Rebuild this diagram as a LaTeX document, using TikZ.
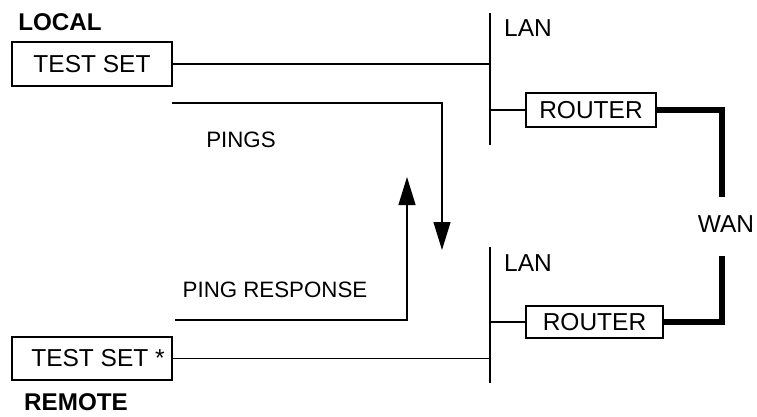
\documentclass[tikz,border=0pt]{standalone}
\usepackage{fontspec}
\setmainfont{Liberation Sans}
\usetikzlibrary{arrows.meta}
\begin{document}
\begin{tikzpicture}[x=1pt,y=-1pt,
  txt/.style={font=\fontsize{24.5}{28}\selectfont, inner sep=0pt},
  small/.style={font=\fontsize{22.3}{26}\selectfont, inner sep=0pt},
  bold/.style={font=\fontsize{24.2}{28}\selectfont\bfseries, inner sep=0pt},
  box/.style={draw, line width=1.2pt, txt},
  thin/.style={line width=1.2pt},
  wan/.style={line width=6.5pt},
  arr/.style={thin, -{Triangle[length=28pt,width=17pt]}}]
\useasboundingbox (0,0) rectangle (757,416);

% labels
\node[bold] (local) at (60,22) {LOCAL};
\node[bold] (remote) at (76,402) {REMOTE};

% test sets
\node[box, minimum width=160pt, minimum height=44pt] (ts1) at (92,64) {TEST SET};
\node[box, minimum width=160pt, minimum height=43pt] (ts2) at (92,358.5) {\hspace*{12pt}TEST SET *};

% LAN buses
\coordinate (lan1top) at (490,13);
\coordinate (lan1bot) at (490,145);
\coordinate (lan2top) at (490,247);
\coordinate (lan2bot) at (490,383);
\draw[thin] (lan1top) -- (lan1bot);
\draw[thin] (lan2top) -- (lan2bot);
\node[txt] (lan1) at (528,28) {LAN};
\node[txt] (lan2) at (528,263) {LAN};

% routers
\node[box, minimum width=130pt, minimum height=34pt] (r1) at (591,110) {ROUTER};
\node[box, minimum width=137pt, minimum height=32pt] (r2) at (594.5,322) {ROUTER};

% connections
\draw[thin] (ts1.east) -- (ts1.east -| lan1top);
\draw[thin] (ts2.east) -- (ts2.east -| lan2top);
\draw[thin] (r1.west -| lan1top) -- (r1.west);
\draw[thin] (r2.west -| lan2top) -- (r2.west);

% WAN
\coordinate (w1) at (722,197);
\coordinate (w2) at (722,256);
\draw[wan] (r1.east) -| (w1);
\draw[wan] (w2) |- (r2.east);
\node[txt] (wanl) at (726,224) {WAN};

% pings
\coordinate (p0) at (172,103);
\coordinate (p1) at (442,103);
\coordinate (p2) at (442,250);
\draw[arr] (p0) -- (p1) -- (p2);
\node[small] (pings) at (241,140) {PINGS};

\coordinate (q0) at (175,320);
\coordinate (q1) at (407,320);
\coordinate (q2) at (407,177);
\draw[arr] (q0) -- (q1) -- (q2);
\node[small] (resp) at (275,290) {PING RESPONSE};
\end{tikzpicture}
\end{document}
